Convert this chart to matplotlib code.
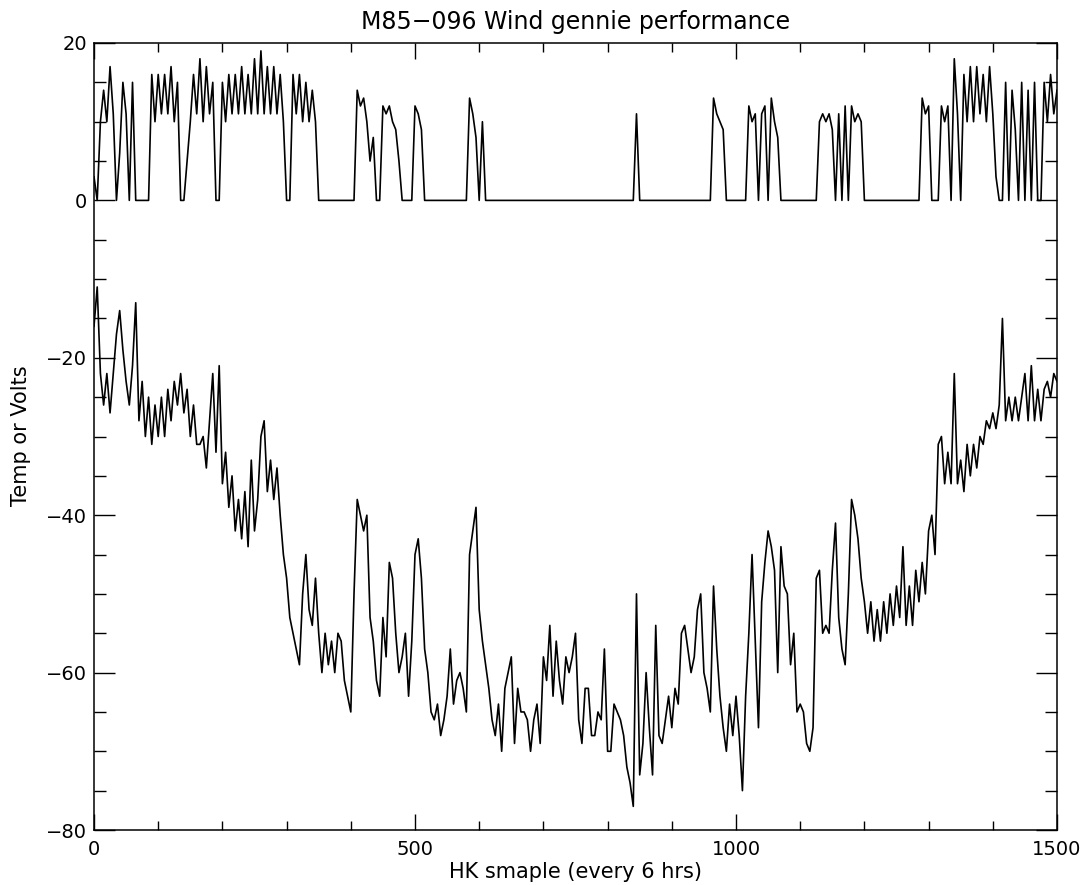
import matplotlib
matplotlib.use("Agg")
import matplotlib.pyplot as plt
from matplotlib.ticker import MultipleLocator

# ---- data (one value every 5 HK samples) ----
samples = list(range(0, 1501, 5))

temperature = [
    -16, -11, -22, -26, -22, -27, -22, -17, -14, -19, -23, -26, -21, -13, -28, -23, -30, -25, -31, -26,
    -30, -25, -30, -24, -28, -23, -26, -22, -27, -24, -30, -26, -31, -31, -30, -34, -28, -22, -32, -21,
    -36, -32, -39, -35, -42, -38, -43, -37, -44, -33, -42, -38, -30, -28, -37, -33, -38, -34, -40, -45,
    -48, -53, -55, -57, -59, -50, -45, -52, -54, -48, -55, -60, -55, -59, -56, -60, -55, -56, -61, -63,
    -65, -50, -38, -40, -42, -40, -53, -56, -61, -63, -53, -58, -46, -48, -55, -60, -58, -55, -63, -56,
    -45, -43, -48, -57, -60, -65, -66, -64, -68, -66, -63, -57, -64, -61, -60, -62, -65, -45, -42, -39,
    -52, -56, -59, -62, -66, -68, -64, -70, -62, -60, -58, -69, -62, -65, -65, -66, -70, -66, -64, -69,
    -58, -61, -54, -63, -56, -61, -64, -58, -60, -58, -55, -66, -69, -62, -62, -68, -68, -65, -66, -57,
    -70, -70, -64, -65, -66, -68, -72, -74, -77, -50, -73, -69, -60, -67, -73, -54, -68, -69, -66, -63,
    -67, -62, -64, -55, -54, -57, -60, -58, -52, -50, -60, -62, -65, -49, -57, -63, -67, -70, -64, -68,
    -63, -68, -75, -63, -55, -45, -56, -67, -51, -46, -42, -44, -47, -60, -44, -49, -50, -59, -55, -65,
    -64, -65, -69, -70, -67, -48, -47, -55, -54, -55, -47, -41, -53, -57, -59, -50, -38, -40, -43, -48,
    -51, -55, -51, -56, -52, -56, -51, -55, -50, -54, -49, -53, -44, -54, -49, -54, -47, -51, -46, -50,
    -42, -40, -45, -31, -30, -36, -32, -36, -22, -36, -33, -37, -31, -35, -31, -34, -30, -31, -28, -29,
    -27, -29, -26, -15, -28, -25, -28, -25, -28, -25, -22, -28, -21, -28, -24, -28, -24, -23, -25, -22,
    -23,
]

volts = [
    3, 0, 10, 14, 10, 17, 11, 0, 6, 15, 11, 0, 15, 0, 0, 0, 0, 0, 16, 10,
    16, 11, 16, 11, 17, 10, 15, 0, 0, 5, 10, 16, 11, 18, 10, 17, 11, 15, 0, 0,
    15, 10, 16, 11, 16, 11, 17, 11, 16, 11, 18, 11, 19, 11, 17, 11, 17, 11, 16, 10,
    0, 0, 16, 11, 16, 10, 15, 10, 14, 10, 0, 0, 0, 0, 0, 0, 0, 0, 0, 0,
    0, 0, 14, 12, 13, 10, 5, 8, 0, 0, 12, 11, 12, 10, 9, 5, 0, 0, 0, 0,
    12, 11, 9, 0, 0, 0, 0, 0, 0, 0, 0, 0, 0, 0, 0, 0, 0, 13, 11, 8,
    0, 10, 0, 0, 0, 0, 0, 0, 0, 0, 0, 0, 0, 0, 0, 0, 0, 0, 0, 0,
    0, 0, 0, 0, 0, 0, 0, 0, 0, 0, 0, 0, 0, 0, 0, 0, 0, 0, 0, 0,
    0, 0, 0, 0, 0, 0, 0, 0, 0, 11, 0, 0, 0, 0, 0, 0, 0, 0, 0, 0,
    0, 0, 0, 0, 0, 0, 0, 0, 0, 0, 0, 0, 0, 13, 11, 10, 9, 0, 0, 0,
    0, 0, 0, 0, 12, 10, 11, 0, 11, 12, 0, 13, 10, 8, 0, 0, 0, 0, 0, 0,
    0, 0, 0, 0, 0, 0, 10, 11, 10, 11, 9, 0, 11, 0, 12, 0, 12, 10, 11, 10,
    0, 0, 0, 0, 0, 0, 0, 0, 0, 0, 0, 0, 0, 0, 0, 0, 0, 0, 13, 11,
    12, 0, 0, 0, 12, 10, 12, 0, 18, 11, 0, 16, 10, 17, 10, 17, 11, 16, 10, 17,
    11, 3, 0, 0, 15, 0, 14, 9, 0, 15, 0, 14, 0, 15, 0, 0, 15, 10, 16, 11,
    14,
]

x_major_ticks = [0, 500, 1000, 1500]
y_major_ticks = [-80, -60, -40, -20, 0, 20]

title = "M85\u2212096 Wind gennie performance"
x_label = "HK smaple (every 6 hrs)"
y_label = "Temp or Volts"

# ---- figure ----
W, H = 1087, 885
fig = plt.figure(figsize=(W / 100, H / 100), dpi=100)
fig.patch.set_facecolor("white")
ax = fig.add_axes([94 / W, 55 / H, 963 / W, 787 / H])

ax.plot(samples, volts, color="black", lw=1.2)
ax.plot(samples, temperature, color="black", lw=1.2)

ax.set_xlim(0, 1500)
ax.set_ylim(-80, 20)
ax.set_xticks(x_major_ticks)
ax.set_yticks(y_major_ticks)
ax.xaxis.set_minor_locator(MultipleLocator(100))
ax.yaxis.set_minor_locator(MultipleLocator(5))

ax.tick_params(axis="x", which="major", direction="in", length=11.5, width=1.0,
               top=True, bottom=True, labelsize=14, pad=7)
ax.tick_params(axis="x", which="minor", direction="in", length=6.5, width=1.0,
               top=True, bottom=True)
ax.tick_params(axis="y", which="major", direction="in", length=15, width=1.0,
               left=True, right=True, labelsize=14, pad=5)
ax.tick_params(axis="y", which="minor", direction="in", length=8.5, width=1.0,
               left=True, right=True)
for sp in ax.spines.values():
    sp.set_linewidth(1.1)

fig.text(575.5 / W, 1 - 29 / H, title, ha="center", va="baseline", fontsize=17)
fig.text(575.5 / W, 1 - 872 / H, x_label, ha="center", va="center", fontsize=15)
fig.text(21.5 / W, 1 - 436 / H, y_label, ha="center", va="center", rotation=90, fontsize=15)

fig.savefig("out.png", dpi=100, facecolor="white")
